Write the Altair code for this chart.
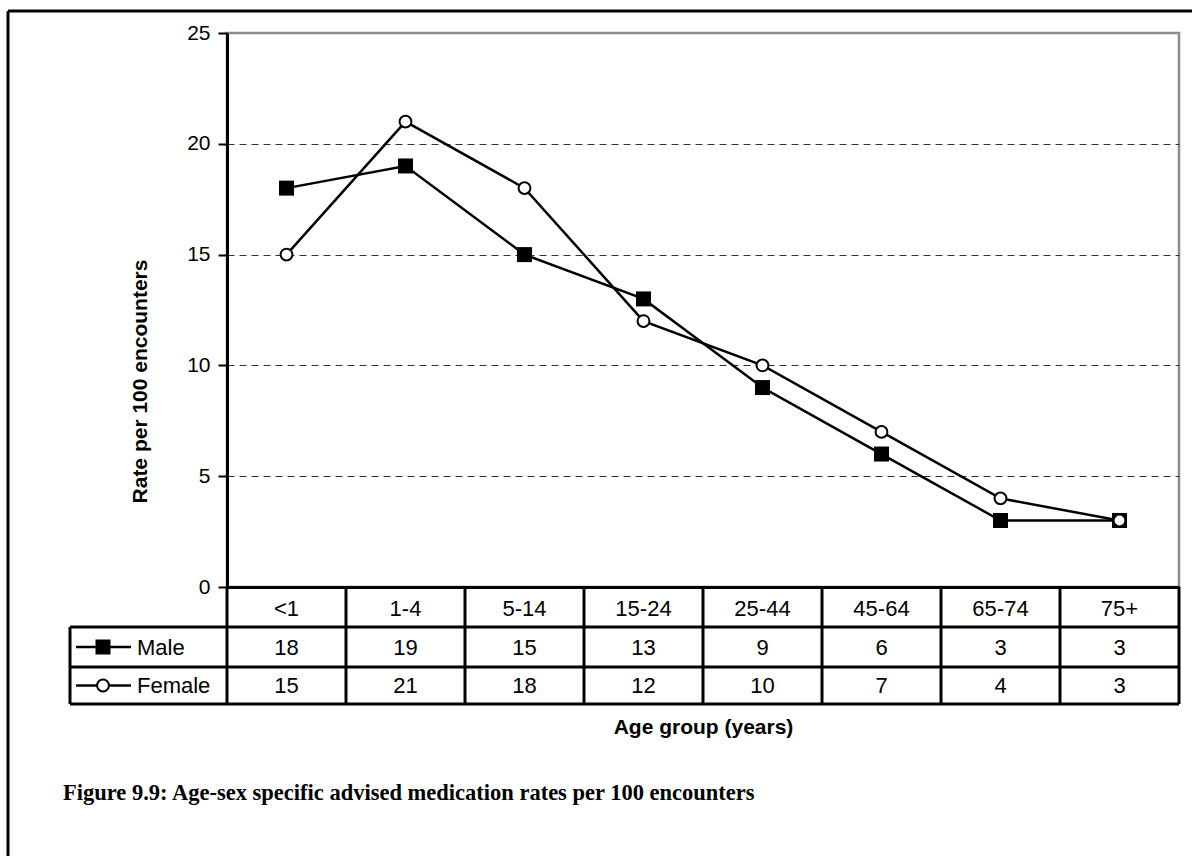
import altair as alt
import pandas as pd

# Age-sex specific advised medication rates per 100 encounters
ages = ["<1", "1-4", "5-14", "15-24", "25-44", "45-64", "65-74", "75+"]
male = [18, 19, 15, 13, 9, 6, 3, 3]
female = [15, 21, 18, 12, 10, 7, 4, 3]
y_ticks = [0, 5, 10, 15, 20, 25]

SANS = "Liberation Sans"
SERIF = "Liberation Serif"

# plot area size in pixels; the data table sits underneath it
W, H = 952, 554
ROW_TOP, ROW_MID, ROW_BOT = 594, 634, 671
TABLE_LEFT = -157

male_df = pd.DataFrame({"age": ages, "rate": male})
female_df = pd.DataFrame({"age": ages, "rate": female})
one = pd.DataFrame({"k": [0]})

xscale = alt.Scale(type="band", domain=ages, paddingInner=0, paddingOuter=0)

x_axis = alt.Axis(
    title="Age group (years)",
    domain=True, domainColor="black", domainWidth=3,
    ticks=False, tickSize=0, grid=False,
    labelAngle=0, labelFontSize=22, labelColor="black",
    labelBaseline="alphabetic", labelPadding=28,
    titleFontSize=21, titleFontWeight="bold", titleColor="black",
    titleBaseline="alphabetic", titleY=146,
)


def xenc(pos=0.5):
    return alt.X("age:N", scale=xscale, sort=ages, bandPosition=pos, axis=x_axis)


y_enc = alt.Y(
    "rate:Q",
    scale=alt.Scale(domain=[0, 25], nice=False),
    axis=alt.Axis(
        values=y_ticks, title="Rate per 100 encounters",
        domainColor="black", domainWidth=3,
        tickColor="black", tickWidth=2, tickSize=9,
        labelFontSize=21, labelColor="black", labelPadding=8,
        grid=True, gridColor="#333333", gridWidth=1.2, gridDash=[7, 5],
        gridOpacity={"condition": {"test": "datum.value == 0 || datum.value == 25", "value": 0}, "value": 1},
        titleFontSize=21, titleFontWeight="bold", titleColor="black",
        titleAngle=-90, titleAlign="center", titleBaseline="alphabetic",
        titleX=-81, titleY=348,
    ),
)

male_line = alt.Chart(male_df).mark_line(color="black", strokeWidth=2.5).encode(
    x=xenc(0.5), y=y_enc
)
female_line = alt.Chart(female_df).mark_line(color="black", strokeWidth=2.5).encode(
    x=xenc(0.5), y=alt.Y("rate:Q")
)
male_pts = alt.Chart(male_df).mark_point(
    shape="square", filled=True, color="black", size=225, opacity=1
).encode(x=xenc(0.5), y=alt.Y("rate:Q"))
female_pts = alt.Chart(female_df).mark_point(
    shape="circle", filled=True, fill="white", stroke="black", strokeWidth=2, size=140, opacity=1
).encode(x=xenc(0.5), y=alt.Y("rate:Q"))

# data table under the plot
col_lines = alt.Chart(male_df).mark_rule(color="black", strokeWidth=3).encode(
    x=xenc(0), y=alt.value(H), y2=alt.value(ROW_BOT)
)
right_line = alt.Chart(one).mark_rule(color="black", strokeWidth=3).encode(
    x=alt.value(W), y=alt.value(H), y2=alt.value(ROW_BOT)
)
left_line = alt.Chart(one).mark_rule(color="black", strokeWidth=3).encode(
    x=alt.value(TABLE_LEFT), y=alt.value(ROW_TOP), y2=alt.value(ROW_BOT)
)
row_lines = [
    alt.Chart(one).mark_rule(color="black", strokeWidth=3).encode(
        x=alt.value(TABLE_LEFT), x2=alt.value(W), y=alt.value(yy)
    )
    for yy in (ROW_TOP, ROW_MID, ROW_BOT)
]

male_vals = alt.Chart(male_df).mark_text(
    font=SANS, fontSize=22, color="black", baseline="alphabetic", align="center"
).encode(x=xenc(0.5), y=alt.value(622), text="rate:Q")
female_vals = alt.Chart(female_df).mark_text(
    font=SANS, fontSize=22, color="black", baseline="alphabetic", align="center"
).encode(x=xenc(0.5), y=alt.value(660), text="rate:Q")

# series keys in the table's first column
key_layers = []
for label, cy, ty, shape_mark in [
    ("Male", 614, 622,
     alt.Chart(one).mark_point(shape="square", filled=True, color="black", size=225, opacity=1)),
    ("Female", 652.5, 660,
     alt.Chart(one).mark_point(shape="circle", filled=True, fill="white", stroke="black",
                               strokeWidth=2, size=140, opacity=1)),
]:
    key_layers.append(
        alt.Chart(one).mark_rule(color="black", strokeWidth=2.5).encode(
            x=alt.value(-151), x2=alt.value(-96), y=alt.value(cy)
        )
    )
    key_layers.append(shape_mark.encode(x=alt.value(-124), y=alt.value(cy)))
    key_layers.append(
        alt.Chart(one).mark_text(
            font=SANS, fontSize=22, color="black", align="left", baseline="alphabetic"
        ).encode(x=alt.value(-90), y=alt.value(ty), text=alt.value(label))
    )

# figure frame (top and left edges) and caption
frame_top = alt.Chart(one).mark_rule(color="black", strokeWidth=3).encode(
    x=alt.value(-219), x2=alt.value(1000), y=alt.value(-22)
)
frame_left = alt.Chart(one).mark_rule(color="black", strokeWidth=3).encode(
    x=alt.value(-219), y=alt.value(-22), y2=alt.value(900)
)
caption = alt.Chart(one).mark_text(
    font=SERIF, fontSize=22.5, fontWeight="bold", color="black",
    align="left", baseline="alphabetic",
).encode(
    x=alt.value(-164), y=alt.value(767),
    text=alt.value("Figure 9.9: Age-sex specific advised medication rates per 100 encounters"),
)

chart = alt.layer(
    male_line, female_line, male_pts, female_pts,
    col_lines, right_line, left_line, *row_lines,
    male_vals, female_vals, *key_layers,
    frame_top, frame_left, caption,
).properties(
    width=W, height=H,
    autosize=alt.AutoSizeParams(type="none"),
    padding={"left": 227, "top": 33, "right": 13, "bottom": 269},
    background="white",
).configure_view(
    stroke="#8c8c8c", strokeWidth=2.5, fill="white"
).configure_axis(
    labelFont=SANS, titleFont=SANS
)

chart.save("out.html", embed_options={"renderer": "svg", "actions": False})
